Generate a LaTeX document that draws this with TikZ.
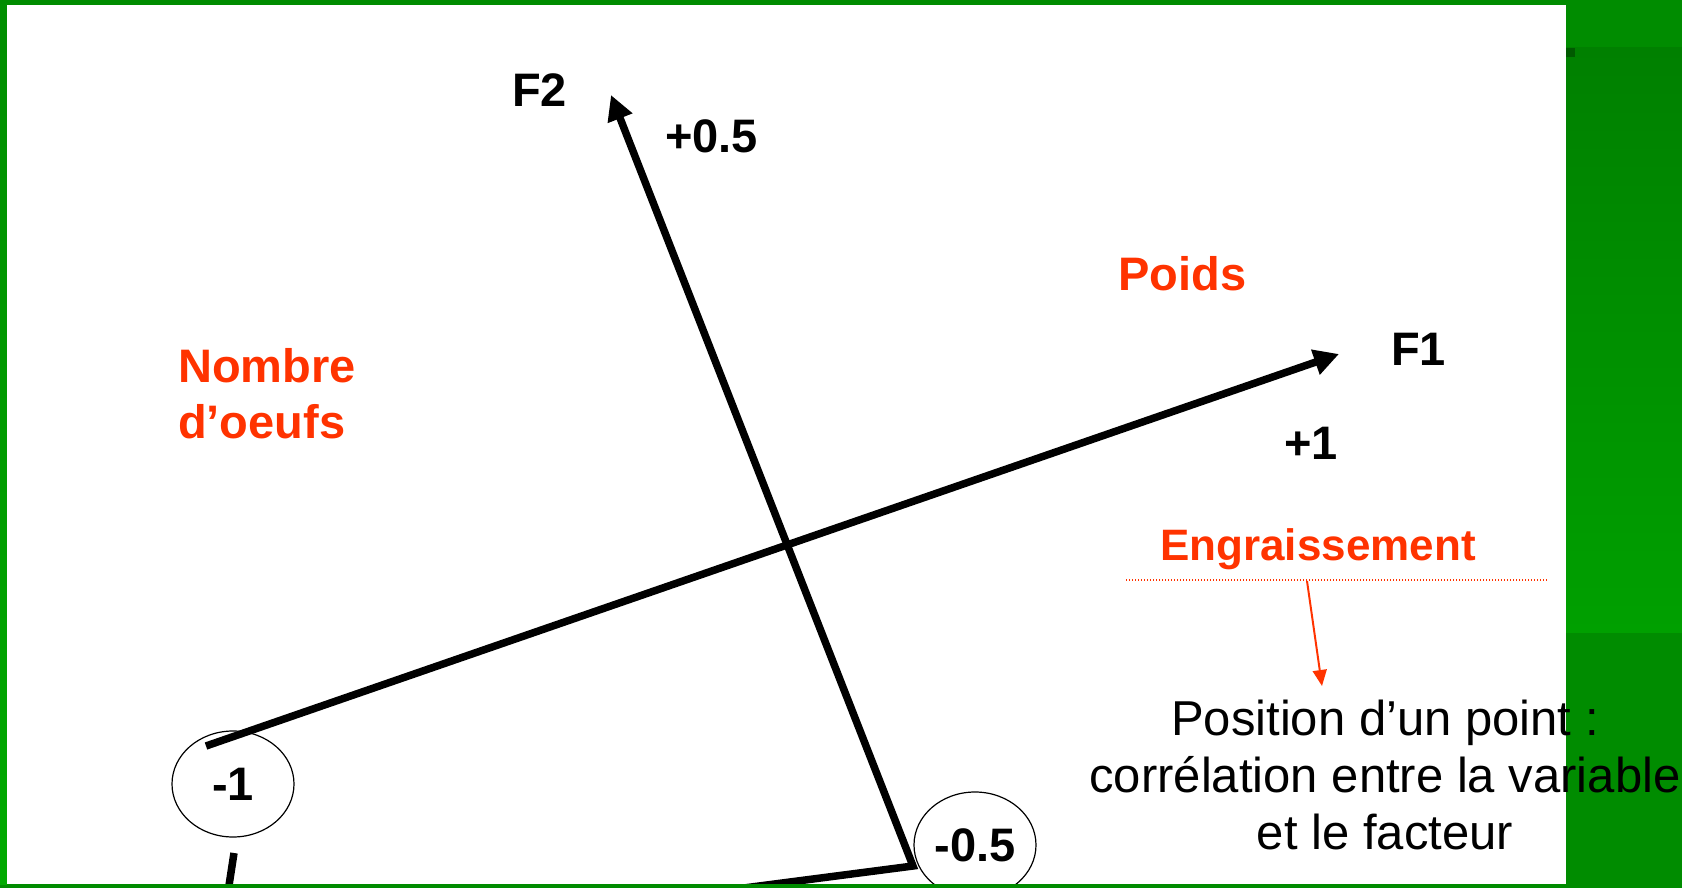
\documentclass[tikz,border=0pt]{standalone}
\usepackage{fontspec}
\setmainfont{Liberation Sans}
\usetikzlibrary{arrows.meta,shapes.geometric}
\definecolor{orng}{HTML}{FF3300}
\definecolor{gA}{HTML}{008C00}
\definecolor{gB}{HTML}{008000}
\definecolor{gC}{HTML}{00A000}
\definecolor{gD}{HTML}{005A00}
\definecolor{gL1}{HTML}{008E00}
\definecolor{gL2}{HTML}{00AA00}
\tikzset{
  axisline/.style={line width=7.5pt, line join=miter},
  axisarrow/.style={axisline, -{Triangle[length=25pt,width=25pt]}},
  lbl/.style={font=\fontsize{47}{56}\selectfont\bfseries, inner sep=0pt},
  varlbl/.style={lbl, text=orng},
  ringnode/.style={ellipse, draw, line width=1.2pt, minimum width=122pt, minimum height=106pt, inner sep=0pt, font=\fontsize{47}{56}\selectfont\bfseries},
  notetext/.style={font=\fontsize{49}{57}\selectfont, inner sep=0pt, align=center},
  redarrow/.style={draw=orng, line width=2pt, -{Triangle[length=16pt,width=14pt]}},
  dotline/.style={draw=orng, line width=1.4pt, dash pattern=on 1.4pt off 1.6pt}
}
\begin{document}
\begin{tikzpicture}[x=1pt,y=-1pt]
\useasboundingbox (0,0) rectangle (1682,888);
% green frame
\fill[gA] (0,0) rectangle (1682,888);
\shade[top color=gL1, bottom color=gL2] (0,5) rectangle (7,884);
\fill[gA] (1566,0) rectangle (1682,48);
\shade[top color=gB, bottom color=gC] (1566,48) rectangle (1682,633);
\fill[gA] (1566,633) rectangle (1682,888);
\fill[gD] (1566,48) rectangle (1575,57);
\fill[white] (7,5) rectangle (1566,884);
% axes
\coordinate (f1s) at (206,746);
\coordinate (f1e) at (1339,354);
\coordinate (f2c) at (913,866);
\coordinate (f2e) at (611,95);
\coordinate (bl) at (713,892);
\coordinate (ls) at (234,853);
\coordinate (le) at (228,892);
\draw[axisarrow] (f1s) -- (f1e);
\draw[axisarrow] (bl) -- (f2c) -- (f2e);
\draw[axisline] (ls) -- (le);
% rings
\node[ringnode] (m1) at (233,784) {-1};
\node[ringnode] (m05) at (975,845) {-0.5};
% bottom strip over clipped parts
\fill[gA] (7,884) rectangle (1566,888);
% labels
\node[lbl, anchor=base west] (F2) at (512,107) {F2};
\node[lbl, anchor=base west] (p05) at (665,153) {+0.5};
\node[lbl, anchor=base west] (F1) at (1391,365) {F1};
\node[lbl, anchor=base west] (p1) at (1284,459) {+1};
\node[varlbl, anchor=base west] (poids) at (1118,290) {Poids};
\node[varlbl, anchor=base west, align=left] (oeufs) at (178,438) {Nombre\\d’oeufs};
\node[varlbl, font=\fontsize{44}{52}\selectfont\bfseries, anchor=base] (engr) at (1318,560) {Engraissement};
% dotted line and arrow
\coordinate (dl) at (1126,580);
\coordinate (dr) at (1548,580);
\draw[dotline] (dl) -- (dr);
\node[notetext, anchor=base] (pos) at (1385,849) {Position d’un point :\\corrélation entre la variable\\et le facteur};
\coordinate (ra) at (1307,581);
\coordinate (rb) at (1322,686);
\draw[redarrow] (ra) -- (rb);
\end{tikzpicture}
\end{document}
